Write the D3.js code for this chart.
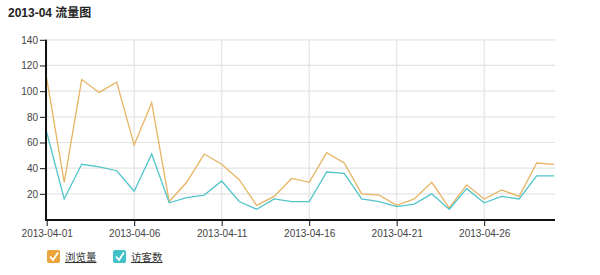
<!DOCTYPE html>
<html><head><meta charset="utf-8">
<script src="https://cdn.jsdelivr.net/npm/d3@7"></script>
<style>
body{margin:0;background:#fff;font-family:Arial,"Liberation Sans","Noto Sans CJK SC",sans-serif;}
</style></head>
<body><svg id="c" width="600" height="275"></svg>
<script>
const title = "2013-04 流量图";
const dates = ["2013-04-01","2013-04-02","2013-04-03","2013-04-04","2013-04-05","2013-04-06","2013-04-07","2013-04-08","2013-04-09","2013-04-10","2013-04-11","2013-04-12","2013-04-13","2013-04-14","2013-04-15","2013-04-16","2013-04-17","2013-04-18","2013-04-19","2013-04-20","2013-04-21","2013-04-22","2013-04-23","2013-04-24","2013-04-25","2013-04-26","2013-04-27","2013-04-28","2013-04-29","2013-04-30"];
const pageViews = [110,29,109,99,107,58,91,14,29,51,43,31,11,18,32,29,52,44,20,19,11,16,29,9,27,16,23,18,44,43];
const visitors  = [68,16,43,41,38,22,51,13,17,19,30,14,8,16,14,14,37,36,16,14,10,12,20,8,24,13,18,16,34,34];
const yTicks = [20,40,60,80,100,120,140];
const xTickIdx = [0,5,10,15,20,25];
const seriesNames = ["浏览量","访客数"];
const seriesColors = ["#e6b462","#52c5ca"];
const boxColors = ["#eba53c","#3fc1c6"];

const svg = d3.select("#c");
const x = d3.scaleLinear().domain([0, dates.length-1]).range([46.7, 554.2]);
const y = d3.scaleLinear().domain([0,140]).range([219.5, 39.8]);

svg.append("text").attr("x",8).attr("y",17).attr("font-size",12).attr("font-weight","bold")
  .attr("fill","#222").text(title);

// gridlines
svg.append("g").selectAll("line").data(yTicks).join("line")
  .attr("x1",46).attr("x2",555).attr("y1",d=>y(d)).attr("y2",d=>y(d))
  .attr("stroke","#e4e4e4").attr("stroke-width",1.2);
svg.append("g").selectAll("line").data(xTickIdx).join("line")
  .attr("x1",d=>x(d)).attr("x2",d=>x(d)).attr("y1",39.8).attr("y2",219.5)
  .attr("stroke","#e4e4e4").attr("stroke-width",1.2);

// lines
const line = d3.line().x((d,i)=>x(i)).y(d=>y(d));
[pageViews, visitors].forEach((s,k)=>{
  svg.append("path").datum(s).attr("d",line).attr("fill","none")
    .attr("stroke",seriesColors[k]).attr("stroke-width",1.3).attr("stroke-linejoin","miter");
});

// y axis
const yAxis = d3.axisLeft(y).tickValues(yTicks).tickSize(6).tickSizeOuter(0).tickFormat(d3.format("d"));
const gy = svg.append("g").attr("transform","translate(46,0)").call(yAxis);
gy.select(".domain").remove();
gy.append("line").attr("x1",0).attr("x2",0).attr("y1",39.8).attr("y2",220.5).attr("stroke","#111").attr("stroke-width",2);
gy.selectAll(".tick line").attr("stroke","#111");
gy.selectAll(".tick text").attr("font-size",10).attr("fill","#444").attr("font-family","Arial,'Liberation Sans',sans-serif").attr("x",-8);

// x axis
const xAxis = d3.axisBottom(x).tickValues(xTickIdx).tickSize(6).tickSizeOuter(0).tickFormat(i=>dates[i]);
const gx = svg.append("g").attr("transform","translate(0,220)").call(xAxis);
gx.select(".domain").remove();
gx.append("line").attr("x1",45).attr("x2",555).attr("y1",0).attr("y2",0).attr("stroke","#111").attr("stroke-width",2);
gx.selectAll(".tick line").attr("stroke","#111");
gx.selectAll(".tick text").attr("font-size",10).attr("fill","#444").attr("font-family","Arial,'Liberation Sans',sans-serif").attr("y",10);

// legend
const legX = [47, 113];
seriesNames.forEach((n,k)=>{
  const g = svg.append("g").attr("transform",`translate(${legX[k]},250)`);
  g.append("rect").attr("width",13).attr("height",13).attr("rx",2).attr("fill",boxColors[k]);
  g.append("path").attr("d","M3,6.5 L6,10 L11,2.5").attr("fill","none").attr("stroke","#fff").attr("stroke-width",1.8);
  g.append("text").attr("x",18).attr("y",11).attr("font-size",10.5).attr("fill","#333")
    .attr("text-decoration","underline").attr("font-family","'Noto Sans CJK SC',sans-serif").text(n);
});
</script></body></html>
